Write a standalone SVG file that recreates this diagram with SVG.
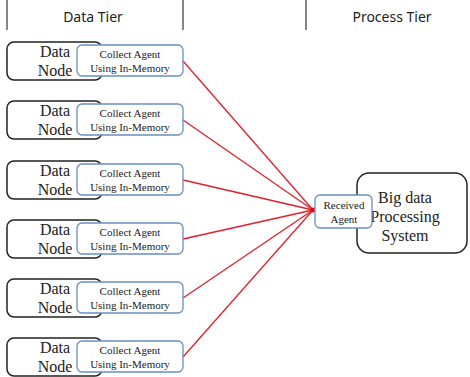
<svg xmlns="http://www.w3.org/2000/svg" width="470" height="377" viewBox="0 0 470 377">
<style>
.hdr{font-family:"Noto Sans","Open Sans",sans-serif;font-size:14px;fill:#222;text-anchor:middle}
.dn{fill:#fff;stroke:#222;stroke-width:1.5}
.ag{fill:#fff;stroke:#6a8fc0;stroke-width:1.3}
.t{font-family:"Liberation Serif",serif;fill:#222;text-anchor:middle}
.big{font-size:16px}
.sm{font-size:11px}
.ln{stroke:#e0202a;stroke-width:1.3;fill:none}
.sep{stroke:#333;stroke-width:1.2}
</style>
<g id="header">
<line class="sep" x1="7" y1="0" x2="7" y2="30"/>
<line class="sep" x1="183" y1="0" x2="183" y2="30"/>
<line class="sep" x1="306" y1="0" x2="306" y2="30"/>
<text class="hdr" x="93" y="22">Data Tier</text>
<text class="hdr" x="392" y="22">Process Tier</text>
</g>
<g id="connectors">
<line class="ln" x1="183" y1="61" x2="313" y2="210"/>
<line class="ln" x1="183" y1="120" x2="313" y2="210"/>
<line class="ln" x1="183" y1="180" x2="313" y2="210"/>
<line class="ln" x1="183" y1="239" x2="313" y2="210"/>
<line class="ln" x1="183" y1="298" x2="313" y2="210"/>
<line class="ln" x1="183" y1="357" x2="313" y2="210"/>
<circle cx="313" cy="210" r="2.5" fill="#f00"/>
</g>
<g id="node1">
<rect class="dn" x="7" y="42" width="95" height="38" rx="7"/>
<text class="t big" x="55" y="57">Data</text><text class="t big" x="55" y="76">Node</text>
<rect class="ag" x="77" y="45" width="106" height="31" rx="5"/>
<text class="t sm" x="130" y="58">Collect Agent</text><text class="t sm" x="130" y="72">Using In-Memory</text>
</g>
<g id="node2">
<rect class="dn" x="7" y="101" width="95" height="38" rx="7"/>
<text class="t big" x="55" y="116">Data</text><text class="t big" x="55" y="135">Node</text>
<rect class="ag" x="77" y="104" width="106" height="31" rx="5"/>
<text class="t sm" x="130" y="117">Collect Agent</text><text class="t sm" x="130" y="131">Using In-Memory</text>
</g>
<g id="node3">
<rect class="dn" x="7" y="161" width="95" height="38" rx="7"/>
<text class="t big" x="55" y="176">Data</text><text class="t big" x="55" y="195">Node</text>
<rect class="ag" x="77" y="164" width="106" height="31" rx="5"/>
<text class="t sm" x="130" y="177">Collect Agent</text><text class="t sm" x="130" y="191">Using In-Memory</text>
</g>
<g id="node4">
<rect class="dn" x="7" y="220" width="95" height="38" rx="7"/>
<text class="t big" x="55" y="235">Data</text><text class="t big" x="55" y="254">Node</text>
<rect class="ag" x="77" y="223" width="106" height="31" rx="5"/>
<text class="t sm" x="130" y="236">Collect Agent</text><text class="t sm" x="130" y="250">Using In-Memory</text>
</g>
<g id="node5">
<rect class="dn" x="7" y="279" width="95" height="38" rx="7"/>
<text class="t big" x="55" y="294">Data</text><text class="t big" x="55" y="313">Node</text>
<rect class="ag" x="77" y="282" width="106" height="31" rx="5"/>
<text class="t sm" x="130" y="295">Collect Agent</text><text class="t sm" x="130" y="309">Using In-Memory</text>
</g>
<g id="node6">
<rect class="dn" x="7" y="338" width="95" height="38" rx="7"/>
<text class="t big" x="55" y="353">Data</text><text class="t big" x="55" y="372">Node</text>
<rect class="ag" x="77" y="341" width="106" height="31" rx="5"/>
<text class="t sm" x="130" y="354">Collect Agent</text><text class="t sm" x="130" y="368">Using In-Memory</text>
</g>
<g id="bigdata">
<rect class="dn" x="357" y="173" width="110" height="80" rx="12"/>
<text class="t big" x="405" y="203">Big data</text>
<text class="t big" x="405" y="222">Processing</text>
<text class="t big" x="405" y="241">System</text>
</g>
<g id="received">
<rect class="ag" x="315" y="195" width="57" height="33" rx="5"/>
<text class="t sm" x="344" y="209">Received</text>
<text class="t sm" x="344" y="223">Agent</text>
</g>
</svg>
